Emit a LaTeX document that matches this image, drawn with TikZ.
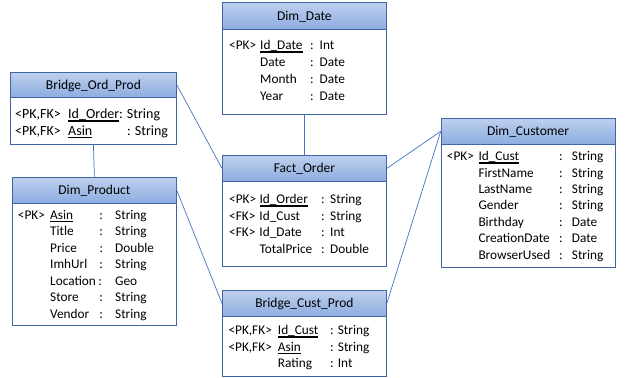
\documentclass[tikz,border=0pt]{standalone}
\usepackage{fontspec}
\setmainfont{Carlito}
\definecolor{hdtop}{RGB}{190,208,238}
\definecolor{hdbot}{RGB}{140,172,224}
\definecolor{bordc}{RGB}{65,100,165}
\definecolor{linec}{RGB}{68,114,196}
\newcommand\uln[1]{\setbox0\hbox{#1}\rlap{\vrule width\wd0 height -1.6pt depth 3.2pt}\box0}
\newcommand\frow[9]{\node[rowt] (#1) at (#3,#2) {\makebox[\dimexpr#5pt-#3pt\relax][l]{#4}\makebox[\dimexpr#7pt-#5pt\relax][l]{#6}\makebox[\dimexpr#8pt-#7pt\relax][l]{:}#9};}
\tikzset{
  hdr/.style={draw=bordc, line width=0.8pt, top color=hdtop, bottom color=hdbot,
    inner sep=0pt, anchor=north west, text height=10pt, text depth=1pt,
    font=\fontsize{13.5}{16}\selectfont},
  bodyb/.style={draw=bordc, line width=0.8pt, fill=white, inner sep=0pt, anchor=north west},
  rowt/.style={anchor=base west, inner sep=0pt, font=\fontsize{13.3}{16}\selectfont},
  link/.style={draw=linec, line width=0.7pt},
}
\begin{document}
\begin{tikzpicture}[x=1pt,y=-1pt]
\useasboundingbox[fill=white] (0,0) rectangle (633,378);
% Dim_Date
\node[bodyb, minimum width=164pt, minimum height=84.5pt] (dateB) at (222,29) {};
\node[hdr, minimum width=164pt, minimum height=27pt] (dateH) at (222,2) {Dim\_Date};
\frow{dd1}{49.7}{229}{<PK>}{260}{\uln{Id\_Date}}{310}{319.5}{Int}
\frow{dd2}{66.7}{229}{}{260}{Date}{310}{319.5}{Date}
\frow{dd3}{83.7}{229}{}{260}{Month}{310}{319.5}{Date}
\frow{dd4}{100.7}{229}{}{260}{Year}{310}{319.5}{Date}
% Bridge_Ord_Prod
\node[bodyb, minimum width=166pt, minimum height=47pt] (ordB) at (10,97) {};
\node[hdr, minimum width=166pt, minimum height=25pt] (ordH) at (10,72) {Bridge\_Ord\_Prod};
\node[rowt, font=\fontsize{14}{16}\selectfont] (bo1) at (15,118.3) {\makebox[\dimexpr68pt-15pt\relax][l]{<PK,FK>}\uln{Id\_Order}:\hspace{4pt}String};
\node[rowt, font=\fontsize{14}{16}\selectfont] (bo2) at (15,135) {\makebox[\dimexpr68pt-15pt\relax][l]{<PK,FK>}\makebox[\dimexpr127pt-68pt\relax][l]{\uln{Asin}}:\hspace{4pt}String};
% Dim_Product
\node[bodyb, minimum width=164pt, minimum height=122pt] (prodB) at (12,203) {};
\node[hdr, minimum width=164pt, minimum height=26pt] (prodH) at (12,177) {Dim\_Product};
\frow{dp1}{219}{17.7}{<PK>}{50}{\uln{Asin}}{99.3}{115}{String}
\frow{dp2}{235.5}{17.7}{}{50}{Title}{99.3}{115}{String}
\frow{dp3}{252}{17.7}{}{50}{Price}{99.3}{115}{Double}
\frow{dp4}{268.5}{17.7}{}{50}{ImhUrl}{99.3}{115}{String}
\frow{dp5}{285}{17.7}{}{50}{Location}{98.3}{115}{Geo}
\frow{dp6}{301.5}{17.7}{}{50}{Store}{99.3}{115}{String}
\frow{dp7}{318}{17.7}{}{50}{Vendor}{99.3}{115}{String}
% Fact_Order
\node[bodyb, minimum width=164pt, minimum height=85pt] (factB) at (222,181) {};
\node[hdr, minimum width=164pt, minimum height=26pt] (factH) at (222,155) {Fact\_Order};
\frow{fo1}{203.3}{229}{<PK>}{259.3}{\uln{Id\_Order}}{321}{330}{String}
\frow{fo2}{220}{229}{<FK>}{259.3}{Id\_Cust}{321}{330}{String}
\frow{fo3}{236.7}{229}{<FK>}{259.3}{Id\_Date}{321}{330}{Int}
\frow{fo4}{253.3}{229}{}{259.3}{TotalPrice}{321}{330}{Double}
% Bridge_Cust_Prod
\node[bodyb, minimum width=164pt, minimum height=60pt] (bcpB) at (222,316) {};
\node[hdr, minimum width=164pt, minimum height=26pt] (bcpH) at (222,290) {Bridge\_Cust\_Prod};
\frow{bc1}{334.5}{228.3}{<PK,FK>}{277.7}{\uln{Id\_Cust}}{330}{337.7}{String}
\frow{bc2}{351}{228.3}{<PK,FK>}{277.7}{\uln{Asin}}{330}{337.7}{String}
\frow{bc3}{367.5}{228.3}{}{277.7}{Rating}{330}{337.7}{Int}
% Dim_Customer
\node[bodyb, minimum width=174pt, minimum height=123pt] (custB) at (440.7,144) {};
\node[hdr, minimum width=174pt, minimum height=26pt] (custH) at (440.7,118) {Dim\_Customer};
\frow{dc1}{160.7}{446.7}{<PK>}{478.3}{\uln{Id\_Cust}}{559}{571.7}{String}
\frow{dc2}{177.1}{446.7}{}{478.3}{FirstName}{559}{571.7}{String}
\frow{dc3}{193.5}{446.7}{}{478.3}{LastName}{559}{571.7}{String}
\frow{dc4}{209.9}{446.7}{}{478.3}{Gender}{559}{571.7}{String}
\frow{dc5}{226.3}{446.7}{}{478.3}{Birthday}{559}{571.7}{Date}
\frow{dc6}{242.7}{446.7}{}{478.3}{CreationDate}{559}{571.7}{Date}
\frow{dc7}{259.1}{446.7}{}{478.3}{BrowserUsed}{559}{571.7}{String}
% connectors
\draw[link] (dateB.south) -- (factH.north);
\draw[link] (ordB.south) -- (prodH.north);
\draw[link] (ordH.east) -- (factH.west);
\draw[link] (prodH.east) -- (bcpH.west);
\draw[link] (factH.east) -- (custH.west);
\draw[link] (custH.west) -- (bcpH.east);
\end{tikzpicture}
\end{document}
